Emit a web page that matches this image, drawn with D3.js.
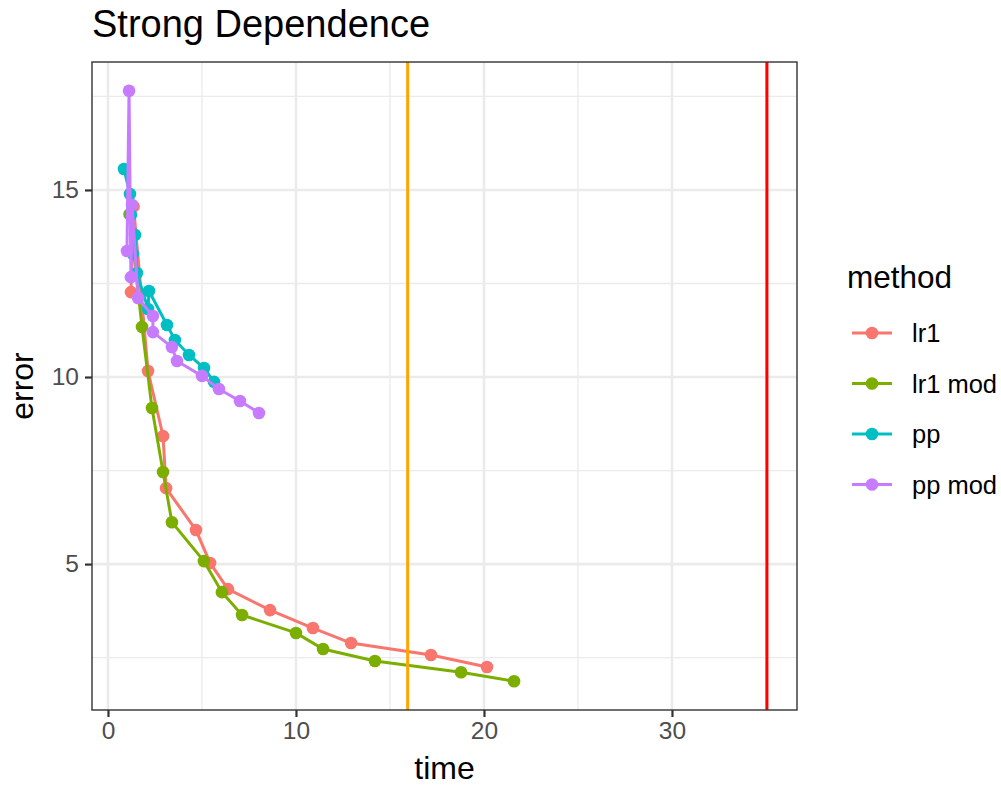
<!DOCTYPE html>
<html><head><meta charset="utf-8">
<script src="https://cdn.jsdelivr.net/npm/d3@7"></script>
<style>body{margin:0;background:#fff}svg{display:block;font-family:"Liberation Sans",Arial,sans-serif}</style>
</head><body><svg id="c" width="1001" height="786"></svg>
<script>
const methods = ["lr1","lr1 mod","pp","pp mod"];
const colors = ["#F8766D","#7CAE00","#00BFC4","#C77CFF"];
const lr1Time  = [1.36,1.22,2.13,2.93,3.09,4.68,5.43,6.38,8.62,10.9,12.93,17.18,20.16];
const lr1Err   = [14.56,12.27,10.16,8.42,7.03,5.91,5.03,4.33,3.77,3.29,2.89,2.57,2.25];
const lr1mTime = [1.15,1.81,2.34,2.93,3.40,5.10,6.06,7.13,10.0,11.44,14.2,18.78,21.6];
const lr1mErr  = [14.35,11.34,9.17,7.46,6.12,5.08,4.25,3.64,3.16,2.73,2.41,2.11,1.87];
const ppTime   = [0.85,1.17,1.22,1.44,1.33,1.54,2.18,2.13,3.14,3.56,4.31,5.11,5.64];
const ppErr    = [15.56,14.89,14.33,13.80,13.29,12.78,12.30,11.82,11.39,10.99,10.59,10.24,9.87];
const ppmTime  = [1.12,1.28,1.01,1.22,1.60,2.39,2.39,3.40,3.67,5.00,5.90,7.02,8.03];
const ppmErr   = [17.65,14.60,13.37,12.67,12.11,11.63,11.20,10.80,10.43,10.03,9.68,9.36,9.04];
const vlines = [15.94, 35.05];
const vlineColors = ["#FFA500","#FF0000"];
const xTicks = [0,10,20,30];
const yTicks = [5,10,15];
const xMinor = [5,15,25,35];
const yMinor = [2.5,7.5,12.5,17.5];

const seriesT = [lr1Time,lr1mTime,ppTime,ppmTime];
const seriesE = [lr1Err,lr1mErr,ppErr,ppmErr];

const svg = d3.select("#c");
const L=92,R=797,T=62,B=710;
const x = d3.scaleLinear().domain([-0.85,36.65]).range([L,R]);
const y = d3.scaleLinear().domain([1.1,18.42]).range([B,T]);

const g = svg.append("g");
g.selectAll(".xm").data(xMinor).join("line").attr("x1",d=>x(d)).attr("x2",d=>x(d)).attr("y1",T).attr("y2",B).attr("stroke","#EBEBEB").attr("stroke-width",1.3);
g.selectAll(".ym").data(yMinor).join("line").attr("y1",d=>y(d)).attr("y2",d=>y(d)).attr("x1",L).attr("x2",R).attr("stroke","#EBEBEB").attr("stroke-width",1.3);
g.selectAll(".xg").data(xTicks).join("line").attr("x1",d=>x(d)).attr("x2",d=>x(d)).attr("y1",T).attr("y2",B).attr("stroke","#EBEBEB").attr("stroke-width",2.6);
g.selectAll(".yg").data(yTicks).join("line").attr("y1",d=>y(d)).attr("y2",d=>y(d)).attr("x1",L).attr("x2",R).attr("stroke","#EBEBEB").attr("stroke-width",2.6);

const line = d3.line().x(d=>x(d[0])).y(d=>y(d[1]));
methods.forEach((m,i)=>{
  const pts = seriesT[i].map((t,j)=>[t,seriesE[i][j]]);
  const sorted = pts.slice().sort((a,b)=>a[0]-b[0]);
  g.append("path").datum(sorted).attr("d",line).attr("fill","none").attr("stroke",colors[i]).attr("stroke-width",3);
  g.selectAll(null).data(pts).join("circle").attr("cx",d=>x(d[0])).attr("cy",d=>y(d[1])).attr("r",6.3).attr("fill",colors[i]);
});
g.selectAll(".vl").data(vlines).join("line").attr("x1",d=>x(d)).attr("x2",d=>x(d)).attr("y1",T).attr("y2",B).attr("stroke",(d,i)=>vlineColors[i]).attr("stroke-width",3);

svg.append("rect").attr("x",L).attr("y",T).attr("width",R-L).attr("height",B-T).attr("fill","none").attr("stroke","#333333").attr("stroke-width",1.4);

const xa = svg.append("g").attr("transform",`translate(0,${B})`).call(d3.axisBottom(x).tickValues(xTicks).tickSize(7).tickPadding(5));
const ya = svg.append("g").attr("transform",`translate(${L},0)`).call(d3.axisLeft(y).tickValues(yTicks).tickSize(7).tickPadding(6));
[xa,ya].forEach(a=>{a.select(".domain").remove();a.selectAll(".tick line").attr("stroke","#333333").attr("stroke-width",2.2);a.selectAll(".tick text").attr("fill","#4D4D4D").style("font-size","24.5px").style("font-family","Liberation Sans, Arial, sans-serif");});

svg.append("text").attr("x",(L+R)/2).attr("y",779).attr("text-anchor","middle").style("font-size","32px").text("time");
svg.append("text").attr("transform",`translate(33,${(T+B)/2}) rotate(-90)`).attr("text-anchor","middle").style("font-size","32px").text("error");
svg.append("text").attr("x",92).attr("y",37).style("font-size","38px").text("Strong Dependence");

svg.append("text").attr("x",847).attr("y",288).style("font-size","31.5px").text("method");
const lg = svg.selectAll(".lg").data(methods).join("g").attr("transform",(d,i)=>`translate(0,${333+i*50.5})`);
lg.append("line").attr("x1",852).attr("x2",892).attr("stroke",(d,i)=>colors[i]).attr("stroke-width",3);
lg.append("circle").attr("cx",872).attr("r",6.3).attr("fill",(d,i)=>colors[i]);
lg.append("text").attr("x",912).attr("y",9).style("font-size","25.5px").text(d=>d);
</script></body></html>
